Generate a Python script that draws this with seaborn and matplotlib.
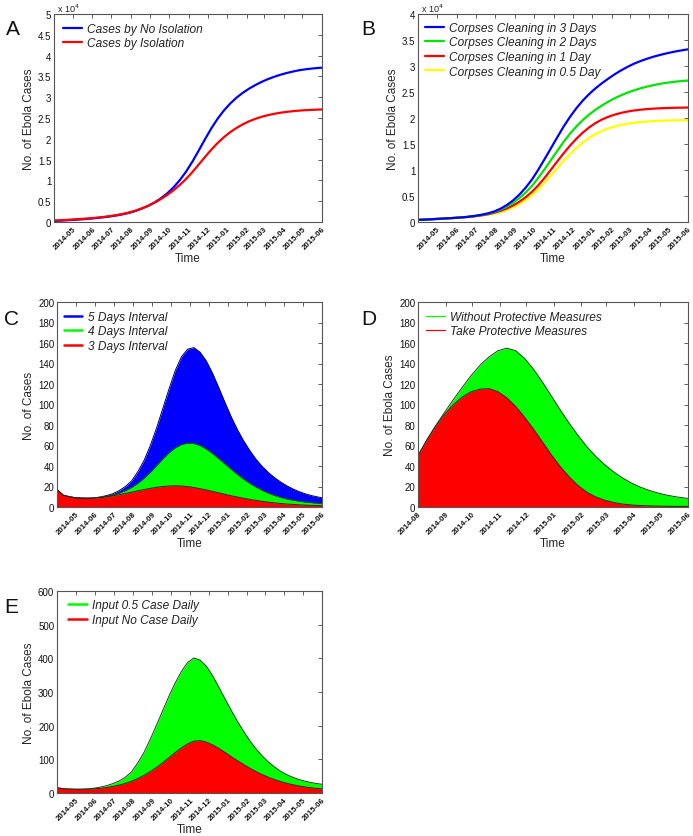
import numpy as np
import pandas as pd
import matplotlib
matplotlib.use("Agg")
import matplotlib.pyplot as plt
import matplotlib.dates as mdates
from matplotlib.lines import Line2D
from matplotlib.ticker import MultipleLocator, FuncFormatter
import seaborn as sns

sns.set_style("white")
plt.rcParams['font.family'] = ['Liberation Sans', 'DejaVu Sans']

# ---------------- data ----------------
# sampling dates (every 10 days) for panels A, B, C, E and for panel D
dates_main = pd.date_range('2014-04-01', periods=44, freq='10D')
dates_d = pd.date_range('2014-08-01', periods=32, freq='10D')

# Panel A: cumulative cases
a_no_isolation = [250, 330, 410, 500, 600, 710, 840, 990, 1160, 1360, 1590, 1870, 2220, 2670,
                  3250, 3900, 4720, 5700, 6880, 8320, 10070, 12120, 14520, 17170, 19890, 22490,
                  24810, 26790, 28470, 29870, 31050, 32050, 32920, 33680, 34340, 34910, 35400,
                  35820, 36180, 36490, 36710, 36890, 37030, 37140]
a_isolation = [350, 430, 510, 600, 700, 810, 930, 1070, 1240, 1440, 1680, 1970, 2320, 2760, 3300,
               3930, 4670, 5520, 6500, 7630, 8920, 10360, 12010, 13810, 15630, 17380, 18980,
               20380, 21580, 22600, 23470, 24200, 24800, 25290, 25690, 26010, 26270, 26480,
               26650, 26780, 26880, 26960, 27020, 27070]

# Panel B: cumulative cases by corpse cleaning time
b_3days = [400, 460, 520, 590, 660, 730, 810, 900, 1020, 1180, 1380, 1650, 2020, 2550, 3250,
           4150, 5270, 6620, 8200, 10100, 12150, 14250, 16350, 18400, 20250, 21900, 23350,
           24600, 25700, 26670, 27550, 28380, 29130, 29800, 30400, 30900, 31340, 31730, 32070,
           32370, 32640, 32880, 33090, 33280]
b_2days = [400, 460, 520, 590, 660, 730, 810, 900, 1010, 1160, 1370, 1600, 1920, 2370, 2960,
           3690, 4610, 5690, 6970, 8530, 10210, 11970, 13730, 15460, 17010, 18400, 19610,
           20660, 21590, 22400, 23130, 23780, 24350, 24850, 25290, 25670, 26000, 26280, 26520,
           26730, 26900, 27040, 27150, 27240]
b_1day = [400, 460, 520, 590, 660, 730, 800, 880, 980, 1110, 1270, 1480, 1770, 2130, 2600, 3180,
          3900, 4780, 5830, 7080, 8530, 10100, 11700, 13250, 14700, 16020, 17190, 18190, 19020,
          19690, 20220, 20640, 20970, 21230, 21430, 21580, 21700, 21790, 21860, 21910, 21950,
          21980, 22000, 22020]
b_half_day = [400, 460, 520, 590, 660, 730, 800, 870, 970, 1090, 1220, 1390, 1630, 1920, 2310,
              2830, 3470, 4250, 5190, 6300, 7590, 8990, 10410, 11790, 13080, 14260, 15300, 16190,
              16930, 17520, 18000, 18370, 18660, 18890, 19070, 19210, 19310, 19390, 19460,
              19500, 19540, 19560, 19580, 19600]

# Panel C: daily cases by interval
c_5days = [17, 11.5, 10.0, 9.0, 8.7, 8.6, 8.9, 9.8, 11.2, 13.0, 16.0, 20.0, 25.5, 34.5, 45.5,
           60, 77, 96, 115, 133, 146.5, 154, 155.5, 151, 142.5, 130.5, 116.5, 102, 88, 75.5,
           64.5, 55, 46.5, 39.5, 33.5, 28.5, 24.2, 20.5, 17.4, 14.8, 12.7, 11.0, 9.7, 8.6]
c_4days = [17, 11.5, 10.0, 9.0, 8.7, 8.6, 8.9, 9.6, 10.5, 11.8, 13.6, 16.0, 19.2, 23.2, 28.2,
           34.0, 40.5, 47.0, 53.0, 57.8, 61.0, 62.4, 62.0, 60.0, 56.6, 52.2, 47.2, 42.0, 36.8,
           31.8, 27.2, 23.0, 19.4, 16.2, 13.5, 11.2, 9.3, 7.8, 6.6, 5.6, 4.8, 4.2, 3.7, 3.3]
c_3days = [17, 11.5, 10.0, 9.0, 8.6, 8.5, 8.7, 9.2, 9.9, 10.9, 12.0, 13.2, 14.5, 15.8, 17.0,
           18.2, 19.2, 20.0, 20.5, 20.7, 20.5, 19.9, 19.0, 17.9, 16.6, 15.2, 13.8, 12.4, 11.0,
           9.7, 8.5, 7.4, 6.4, 5.5, 4.7, 4.0, 3.4, 2.9, 2.5, 2.1, 1.8, 1.6, 1.4, 1.25]

# Panel D: daily cases with/without protective measures
d_without = [50, 65.5, 79.5, 92.5, 105, 117, 128.5, 138.5, 146.5, 152.5, 155, 152.5, 145, 134.5,
             122, 108.5, 95, 82, 70, 59, 49.5, 41.5, 34.5, 28.5, 23.5, 19.5, 16.3, 13.7, 11.6,
             10.0, 8.8, 7.8]
d_with = [50, 65.5, 79, 90.5, 100, 107.5, 112.5, 115, 115.5, 112.5, 106.5, 98, 87.5, 76, 63.5,
          51, 39.5, 29.5, 21, 14.5, 9.8, 6.6, 4.4, 2.9, 2.0, 1.4, 1.05, 0.85, 0.72, 0.65, 0.6,
          0.55]

# Panel E: daily cases by imported cases
e_half_case = [15, 12.8, 11.8, 11.3, 11.5, 12.5, 14.5, 17.5, 22, 28, 36, 47, 63, 90, 121, 160,
               202, 245, 288, 327, 361, 388, 401, 395, 377, 349, 315, 280, 246, 213, 183, 155,
               131, 110, 92, 77, 64, 54, 46, 39.5, 34.5, 30.5, 27.5, 25]
e_no_case = [16, 13, 11.8, 11.0, 10.9, 11.4, 12.4, 14.0, 16.3, 19.5, 23.5, 28.5, 35, 43, 52.5,
             63.5, 76, 90, 105, 120, 134, 146, 154, 155.5, 151, 143, 132.5, 120.5, 108, 96, 84.5,
             73.5, 63.5, 54.5, 46.5, 39.5, 33.5, 28.5, 24.2, 20.6, 17.6, 15.1, 13.1, 11.5]

# ---------------- figure ----------------
W, H = 693, 837
fig = plt.figure(figsize=(W / 100, H / 100), dpi=100)


def rect(x0, y0, x1, y1):
    return [x0 / W, (H - y1) / H, (x1 - x0) / W, (y1 - y0) / H]


axA = fig.add_axes(rect(54, 15, 322, 223))
axB = fig.add_axes(rect(418, 15, 688, 223))
axC = fig.add_axes(rect(57, 303, 322, 508))
axD = fig.add_axes(rect(418, 303, 688, 508))
axE = fig.add_axes(rect(57, 592, 322, 794))

BLUE, RED, GREEN, YELLOW = '#0000ff', '#ff0000', '#00ff00', '#ffff00'


def style(ax, start, first_tick, end, ymax, ystep, fmt=None, ylabel='No. of Ebola Cases'):
    ax.set_xlim(pd.Timestamp(start), pd.Timestamp(end))
    ax.set_ylim(0, ymax)
    ax.set_xticks(pd.date_range(first_tick, end, freq='MS'))
    ax.xaxis.set_major_formatter(mdates.DateFormatter('%Y-%m'))
    ax.yaxis.set_major_locator(MultipleLocator(ystep))
    if fmt is not None:
        ax.yaxis.set_major_formatter(fmt)
    ax.tick_params(direction='in', top=True, right=True, length=3, width=0.6,
                   color='#444444', labelcolor='#111111')
    ax.tick_params(axis='y', labelsize=7, pad=2)
    ax.tick_params(axis='x', labelsize=5.7, pad=2)
    for lab in ax.get_xticklabels():
        lab.set_rotation(45)
        lab.set_ha('right')
        lab.set_rotation_mode('anchor')
        lab.set_fontweight('bold')
    for s in ax.spines.values():
        s.set_color('#555555')
        s.set_linewidth(0.8)
    ax.set_xlabel('Time', fontsize=8.5, labelpad=1)
    ax.set_ylabel(ylabel, fontsize=8.5, labelpad=2)


def legend(ax, handles, labels, x, y):
    ax.legend(handles, labels, loc='upper left', bbox_to_anchor=(x, y), frameon=False,
              prop={'style': 'italic', 'size': 8.6}, handlelength=1.55, handletextpad=0.45,
              labelspacing=0.22, borderpad=0, borderaxespad=0, labelcolor='#222222')


sci = FuncFormatter(lambda v, p: f"{v / 1e4:g}")

# ---- Panel A ----
a_names = ['Cases by No Isolation', 'Cases by Isolation']
dfA = pd.DataFrame({
    'date': list(dates_main) * 2,
    'cases': a_no_isolation + a_isolation,
    'series': [a_names[0]] * len(dates_main) + [a_names[1]] * len(dates_main),
})
sns.lineplot(data=dfA, x='date', y='cases', hue='series', ax=axA, linewidth=1.6,
             palette={a_names[0]: BLUE, a_names[1]: RED}, hue_order=a_names, legend=False)
style(axA, '2014-04-01', '2014-05-01', '2015-06-01', 50000, 5000, sci)
legend(axA, [Line2D([0], [0], color=BLUE, lw=1.6), Line2D([0], [0], color=RED, lw=1.6)],
       a_names, 0.034, 0.958)

# ---- Panel B ----
b_names = ['Corpses Cleaning in 3 Days', 'Corpses Cleaning in 2 Days',
           'Corpses Cleaning in 1 Day', 'Corpses Cleaning in 0.5 Day']
b_cols = [BLUE, '#00e600', RED, YELLOW]
dfB = pd.DataFrame({
    'date': list(dates_main) * 4,
    'cases': b_3days + b_2days + b_1day + b_half_day,
    'series': sum([[n] * len(dates_main) for n in b_names], []),
})
sns.lineplot(data=dfB, x='date', y='cases', hue='series', ax=axB, linewidth=1.6,
             palette=dict(zip(b_names, b_cols)), hue_order=b_names[::-1], legend=False)
style(axB, '2014-04-01', '2014-05-01', '2015-06-01', 40000, 5000, sci)
legend(axB, [Line2D([0], [0], color=c, lw=1.6) for c in b_cols], b_names, 0.026, 0.963)

for ax, x0 in ((axA, 57), (axB, 421)):
    fig.text(x0 / W, (H - 13) / H, r'x 10$^{4}$', fontsize=6.5, color='#222222', va='baseline')


def area(ax, dates, vals, color, edge, lw=0.7):
    ax.fill_between(dates, vals, 0, color=color, linewidth=0)
    sns.lineplot(x=dates, y=vals, ax=ax, color=edge, linewidth=lw)


# ---- Panel C ----
area(axC, dates_main, c_5days, BLUE, '#000050')
area(axC, dates_main, c_4days, GREEN, '#205020')
area(axC, dates_main, c_3days, RED, '#501010')
style(axC, '2014-04-01', '2014-05-01', '2015-06-01', 200, 20, ylabel='No. of Cases')
legend(axC, [Line2D([0], [0], color=c, lw=1.8) for c in (BLUE, GREEN, RED)],
       ['5 Days Interval', '4 Days Interval', '3 Days Interval'], 0.026, 0.957)

# ---- Panel D ----
area(axD, dates_d, d_without, GREEN, '#204020')
area(axD, dates_d, d_with, RED, '#501010')
style(axD, '2014-08-01', '2014-08-01', '2015-06-01', 200, 20)
legend(axD, [Line2D([0], [0], color=c, lw=0.9) for c in (GREEN, RED)],
       ['Without Protective Measures', 'Take Protective Measures'], 0.030, 0.957)

# ---- Panel E ----
area(axE, dates_main, e_half_case, GREEN, '#204020')
area(axE, dates_main, e_no_case, RED, '#501010')
style(axE, '2014-04-01', '2014-05-01', '2015-06-01', 600, 100)
legend(axE, [Line2D([0], [0], color=c, lw=1.8) for c in (GREEN, RED)],
       ['Input 0.5 Case Daily', 'Input No Case Daily'], 0.042, 0.96)

# panel letters
for letter, x, y in (('A', 6, 35), ('B', 361, 35), ('C', 4, 325), ('D', 361, 325), ('E', 4, 613)):
    fig.text(x / W, (H - y) / H, letter, fontsize=15, va='baseline', ha='left', color='#111111')

fig.savefig('out.png', dpi=100, facecolor='white')
